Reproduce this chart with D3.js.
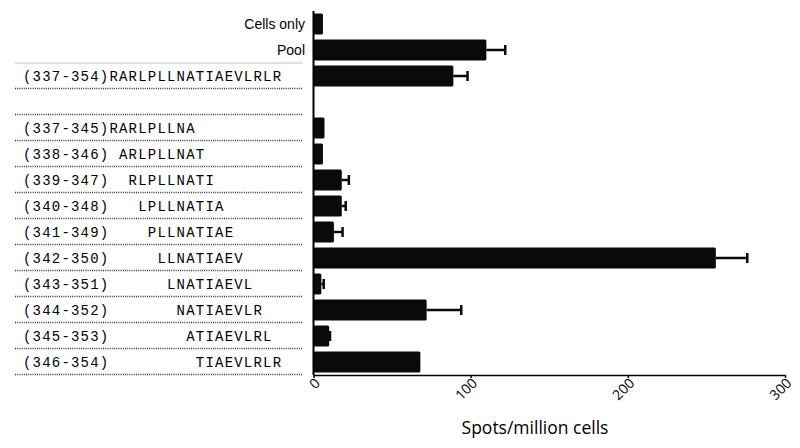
<!DOCTYPE html>
<html>
<head>
<meta charset="utf-8">
<script src="https://cdn.jsdelivr.net/npm/d3@7"></script>
<style>
	body { margin: 0; background: #fff; }
	svg { display: block; }
</style>
</head>
<body>
<div id="chart"></div>
<script>
// rows, top to bottom; blank row is a spacer
var categories = [ "Cells only", "Pool", "(337-354)RARLPLLNATIAEVLRLR", "",
	"(337-345)RARLPLLNA", "(338-346) ARLPLLNAT", "(339-347)  RLPLLNATI",
	"(340-348)   LPLLNATIA", "(341-349)    PLLNATIAE", "(342-350)     LLNATIAEV",
	"(343-351)      LNATIAEVL", "(344-352)       NATIAEVLR", "(345-353)        ATIAEVLRL",
	"(346-354)         TIAEVLRLR" ];
var plainLabels = [ "Cells only", "Pool" ];
var values = [ 6, 110, 89, null, 7, 6, 18, 18, 13, 256, 5, 72, 10, 68 ];
var errors = [ null, 122, 98, null, null, null, 22.5, 20.5, 18.5, 276, 6.5, 94, 10.5, null ];
var xTicks = [ 0, 100, 200, 300 ];
var xTitle = "Spots/million cells";

var width = 800, height = 448;
var margin = { top: 11, right: 15, bottom: 73, left: 313.5 };

var svg = d3.select( "#chart" ).append( "svg" )
	.attr( "width", width )
	.attr( "height", height );

var x = d3.scaleLinear()
	.domain( [ 0, 300 ] )
	.range( [ margin.left, 785 ] );

var y = d3.scaleBand()
	.domain( d3.range( categories.length ) )
	.range( [ margin.top, height - margin.bottom - 0 ] )
	.paddingInner( 0.2 )
	.paddingOuter( 0.1 );

var step = y.step();
var rowTop = function( i ) { return y( i ) - y.paddingInner() * step / 2; };
var rowBottom = function( i ) { return rowTop( i ) + step; };

// separator lines under labels
var labelLeft = 15, labelRight = 303;
var sepRows = d3.range( 2, categories.length );
svg.append( "line" )
	.attr( "x1", labelLeft ).attr( "x2", labelRight )
	.attr( "y1", rowTop( 2 ) ).attr( "y2", rowTop( 2 ) )
	.attr( "stroke", "#d8d8d8" )
	.attr( "stroke-width", 1.5 );

svg.append( "g" ).selectAll( "line" )
	.data( sepRows )
	.enter()
	.append( "line" )
	.attr( "x1", labelLeft ).attr( "x2", labelRight )
	.attr( "y1", function( i ) { return rowBottom( i ) - 0.5; } )
	.attr( "y2", function( i ) { return rowBottom( i ) - 0.5; } )
	.attr( "stroke", "#333" )
	.attr( "stroke-width", 1.3 )
	.attr( "stroke-dasharray", "1,1.2" );

// labels
var labels = svg.append( "g" ).selectAll( "text" )
	.data( categories.map( function( c, i ) { return { text: c, i: i }; } ).filter( function( d ) { return d.text != ""; } ) )
	.enter()
	.append( "text" )
	.attr( "y", function( d ) { return y( d.i ) + y.bandwidth() / 2; } )
	.attr( "dy", "0.35em" )
	.style( "white-space", "pre" )
	.text( function( d ) { return d.text; } );

labels.filter( function( d ) { return plainLabels.indexOf( d.text ) >= 0; } )
	.attr( "x", 305 )
	.attr( "text-anchor", "end" )
	.attr( "font-family", "Liberation Sans, Arial, sans-serif" )
	.attr( "font-size", 14 );

labels.filter( function( d ) { return plainLabels.indexOf( d.text ) < 0; } )
	.attr( "x", 23 )
	.attr( "font-family", "'Courier New', 'Liberation Mono', monospace" )
	.attr( "font-size", 14 )
	.attr( "letter-spacing", 1.2 );

// bars
var rows = values.map( function( v, i ) { return { v: v, e: errors[ i ], i: i }; } )
	.filter( function( d ) { return d.v != null; } );

svg.append( "g" ).selectAll( "rect" )
	.data( rows )
	.enter()
	.append( "rect" )
	.attr( "x", x( 0 ) )
	.attr( "y", function( d ) { return y( d.i ); } )
	.attr( "width", function( d ) { return x( d.v ) - x( 0 ); } )
	.attr( "height", y.bandwidth() )
	.attr( "rx", 1.5 )
	.attr( "fill", "#0a0a0a" );

// error bars (upper side only)
var err = svg.append( "g" ).selectAll( "g" )
	.data( rows.filter( function( d ) { return d.e != null; } ) )
	.enter()
	.append( "g" )
	.attr( "stroke", "#0a0a0a" )
	.attr( "stroke-width", 2.5 );

err.append( "line" )
	.attr( "x1", function( d ) { return x( d.v ); } )
	.attr( "x2", function( d ) { return x( d.e ); } )
	.attr( "y1", function( d ) { return y( d.i ) + y.bandwidth() / 2; } )
	.attr( "y2", function( d ) { return y( d.i ) + y.bandwidth() / 2; } );

err.append( "line" )
	.attr( "x1", function( d ) { return x( d.e ); } )
	.attr( "x2", function( d ) { return x( d.e ); } )
	.attr( "y1", function( d ) { return y( d.i ) + y.bandwidth() / 2 - 5; } )
	.attr( "y2", function( d ) { return y( d.i ) + y.bandwidth() / 2 + 5; } );

// axes
var axisY = rowBottom( categories.length - 1 );

svg.append( "line" )
	.attr( "x1", x( 0 ) ).attr( "x2", x( 0 ) )
	.attr( "y1", margin.top ).attr( "y2", axisY )
	.attr( "stroke", "#000" )
	.attr( "stroke-width", 2 );

var xAxis = svg.append( "g" )
	.attr( "transform", "translate(0," + axisY + ")" )
	.call( d3.axisBottom( x ).tickValues( xTicks ).tickSize( 3 ).tickSizeOuter( 0 ) );

xAxis.select( ".domain" ).attr( "stroke-width", 1.5 );
xAxis.selectAll( ".tick line" ).attr( "stroke-width", 1.5 );
xAxis.selectAll( ".tick text" )
	.attr( "font-family", "'Open Sans', sans-serif" )
	.attr( "font-size", 14 )
	.attr( "fill", "#000" )
	.attr( "text-anchor", "end" )
	.attr( "dy", null )
	.attr( "y", 0 )
	.attr( "transform", "translate(7,9) rotate(-45)" );

svg.append( "text" )
	.attr( "x", 535 )
	.attr( "y", 434 )
	.attr( "text-anchor", "middle" )
	.attr( "font-family", "'Open Sans', sans-serif" )
	.attr( "font-size", 17.5 )
	.attr( "fill", "#000" )
	.text( xTitle );
</script>
</body>
</html>
